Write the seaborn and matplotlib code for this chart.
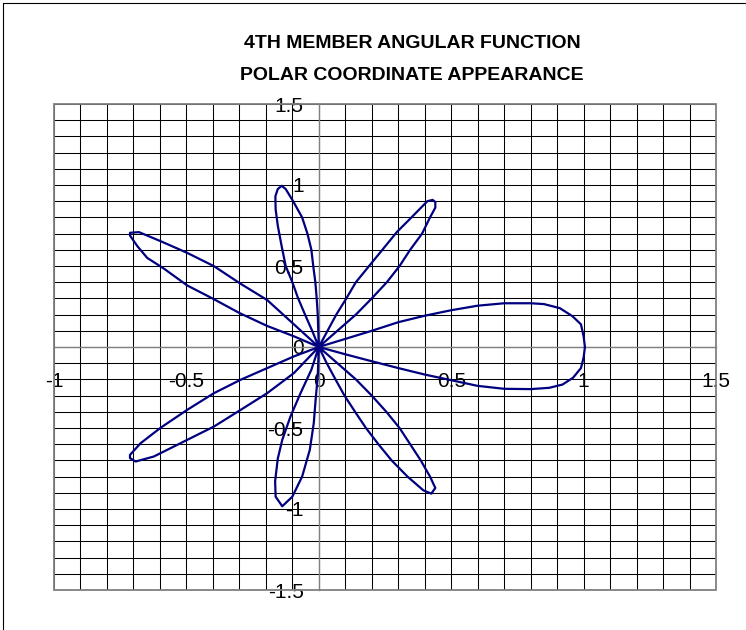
import matplotlib
matplotlib.use("Agg")
import matplotlib.pyplot as plt
import seaborn as sns
import pandas as pd
import numpy as np
from matplotlib.lines import Line2D
from matplotlib.patches import Rectangle
from matplotlib.ticker import MultipleLocator

title_lines = ["4TH MEMBER ANGULAR FUNCTION", "POLAR COORDINATE APPEARANCE"]

# curve, one lobe at a time, going round counter-clockwise
lobe_0_upper_x = [1.005, 1.0, 0.99, 0.958, 0.91, 0.85, 0.8, 0.7, 0.6, 0.5, 0.4, 0.3, 0.2, 0.1, 0.0]
lobe_0_upper_y = [0.0, 0.066, 0.14, 0.19, 0.24, 0.265, 0.27, 0.27, 0.255, 0.227, 0.193, 0.153, 0.10, 0.05, 0.0]

lobe_64_x = [0.07, 0.14, 0.2, 0.257, 0.305, 0.345, 0.39, 0.42, 0.44, 0.44, 0.43, 0.41,
             0.35, 0.295, 0.24, 0.19, 0.14, 0.104, 0.066, 0.033, 0.0]
lobe_64_y = [0.1, 0.2, 0.3, 0.4, 0.5, 0.6, 0.7, 0.8, 0.86, 0.895, 0.908, 0.9,
             0.8, 0.71, 0.6, 0.5, 0.4, 0.3, 0.2, 0.1, 0.0]

lobe_99_x = [-0.002, -0.004, -0.008, -0.013, -0.021, -0.028, -0.043, -0.063, -0.097, -0.125, -0.14,
             -0.155, -0.164, -0.163, -0.155, -0.14, -0.125, -0.1, -0.078, -0.052, -0.025, 0.0]
lobe_99_y = [0.1, 0.2, 0.3, 0.4, 0.5, 0.6, 0.7, 0.8, 0.9, 0.975, 0.995,
             0.975, 0.93, 0.85, 0.75, 0.62, 0.5, 0.4, 0.3, 0.2, 0.1, 0.0]

lobe_135_x = [-0.094, -0.195, -0.295, -0.396, -0.497, -0.597, -0.679, -0.713, -0.713,
              -0.685, -0.648, -0.585, -0.497, -0.396, -0.3, -0.195, -0.094, 0.0]
lobe_135_y = [0.14, 0.29, 0.39, 0.499, 0.581, 0.653, 0.709, 0.705, 0.688,
              0.622, 0.55, 0.484, 0.38, 0.295, 0.21, 0.13, 0.066, 0.0]

lobe_225_x = [-0.094, -0.195, -0.295, -0.396, -0.497, -0.597, -0.673, -0.713, -0.713,
              -0.692, -0.623, -0.497, -0.396, -0.295, -0.195, -0.094, 0.0]
lobe_225_y = [-0.058, -0.13, -0.202, -0.285, -0.388, -0.498, -0.594, -0.666, -0.686,
              -0.707, -0.676, -0.573, -0.491, -0.388, -0.285, -0.161, 0.0]

lobe_261_x = [-0.028, -0.069, -0.107, -0.138, -0.155, -0.165, -0.163, -0.138,
              -0.1, -0.063, -0.034, -0.019, -0.012, -0.004, 0.0]
lobe_261_y = [-0.14, -0.285, -0.429, -0.573, -0.69, -0.83, -0.924, -0.983,
              -0.924, -0.8, -0.635, -0.47, -0.326, -0.182, 0.0]

lobe_296_x = [0.03, 0.063, 0.097, 0.137, 0.178, 0.225, 0.275, 0.335, 0.395, 0.425, 0.44,
              0.42, 0.385, 0.345, 0.305, 0.255, 0.2, 0.14, 0.07, 0.0]
lobe_296_y = [-0.1, -0.2, -0.3, -0.4, -0.5, -0.6, -0.7, -0.8, -0.885, -0.905, -0.87,
              -0.8, -0.7, -0.6, -0.5, -0.4, -0.3, -0.2, -0.1, 0.0]

lobe_0_lower_x = [0.1, 0.2, 0.3, 0.4, 0.5, 0.6, 0.7, 0.8, 0.87, 0.92, 0.96, 0.99, 1.0, 1.005]
lobe_0_lower_y = [-0.045, -0.088, -0.13, -0.17, -0.205, -0.24, -0.258, -0.26, -0.252, -0.232, -0.19, -0.13, -0.065, 0.0]

xs = (lobe_0_upper_x + lobe_64_x + lobe_99_x + lobe_135_x + lobe_225_x
      + lobe_261_x + lobe_296_x + lobe_0_lower_x)
ys = (lobe_0_upper_y + lobe_64_y + lobe_99_y + lobe_135_y + lobe_225_y
      + lobe_261_y + lobe_296_y + lobe_0_lower_y)
curve = pd.DataFrame({"x": xs, "y": ys})

sns.set_style("white")
plt.rcParams["font.family"] = ["Liberation Sans", "DejaVu Sans"]
plt.rcParams["text.color"] = "black"
plt.rcParams["xtick.color"] = "black"
plt.rcParams["ytick.color"] = "black"

W, H = 746, 630
fig = plt.figure(figsize=(W / 100, H / 100), dpi=100)
left, right, top, bottom = 54, 716, 104, 590
ax = fig.add_axes([left / W, 1 - bottom / H, (right - left) / W, (bottom - top) / H])

sns.lineplot(data=curve, x="x", y="y", sort=False, estimator=None,
             color="#000080", linewidth=1.6, ax=ax, zorder=5)

ax.set_xlim(-1, 1.5)
ax.set_ylim(-1.5, 1.5)
ax.xaxis.set_major_locator(MultipleLocator(0.5))
ax.yaxis.set_major_locator(MultipleLocator(0.5))
ax.xaxis.set_minor_locator(MultipleLocator(0.1))
ax.yaxis.set_minor_locator(MultipleLocator(0.1))
ax.grid(True, which="both", color="black", linewidth=0.75)
ax.set_axisbelow(True)
ax.set_xlabel("")
ax.set_ylabel("")

# axes cross at zero, like the spreadsheet chart
for side in ["top", "right"]:
    ax.spines[side].set_visible(False)
for side in ["left", "bottom"]:
    ax.spines[side].set_position(("data", 0))
    ax.spines[side].set_color("#808080")
    ax.spines[side].set_linewidth(1.0)
    ax.spines[side].set_zorder(3)

ax.xaxis.set_major_formatter(matplotlib.ticker.FuncFormatter(lambda v, p: f"{v:g}"))
ax.yaxis.set_major_formatter(matplotlib.ticker.FuncFormatter(lambda v, p: f"{v:g}"))
ax.tick_params(axis="x", which="major", direction="out", length=4, width=0.8,
               color="black", labelcolor="black", labelsize=15, pad=14)
ax.tick_params(axis="y", which="major", direction="out", length=4, width=0.8,
               color="black", labelcolor="black", labelsize=15, pad=7)
ax.tick_params(which="minor", length=0)

# plot area border
ax.add_patch(Rectangle((0, 0), 1, 1, transform=ax.transAxes, fill=False,
                       edgecolor="#808080", linewidth=1.3, zorder=4, clip_on=False))

# chart frame
fig.add_artist(Line2D([3 / W, 1], [1 - 3 / H, 1 - 3 / H], color="black", linewidth=0.8))
fig.add_artist(Line2D([3 / W, 3 / W], [0, 1 - 3 / H], color="black", linewidth=0.8))

fig.text(412 / W, 1 - 48 / H, title_lines[0], ha="center", va="baseline",
         fontsize=14, fontweight="bold", color="black")
fig.text(412 / W, 1 - 80 / H, title_lines[1], ha="center", va="baseline",
         fontsize=14, fontweight="bold", color="black")

fig.savefig("out.png", dpi=100)
